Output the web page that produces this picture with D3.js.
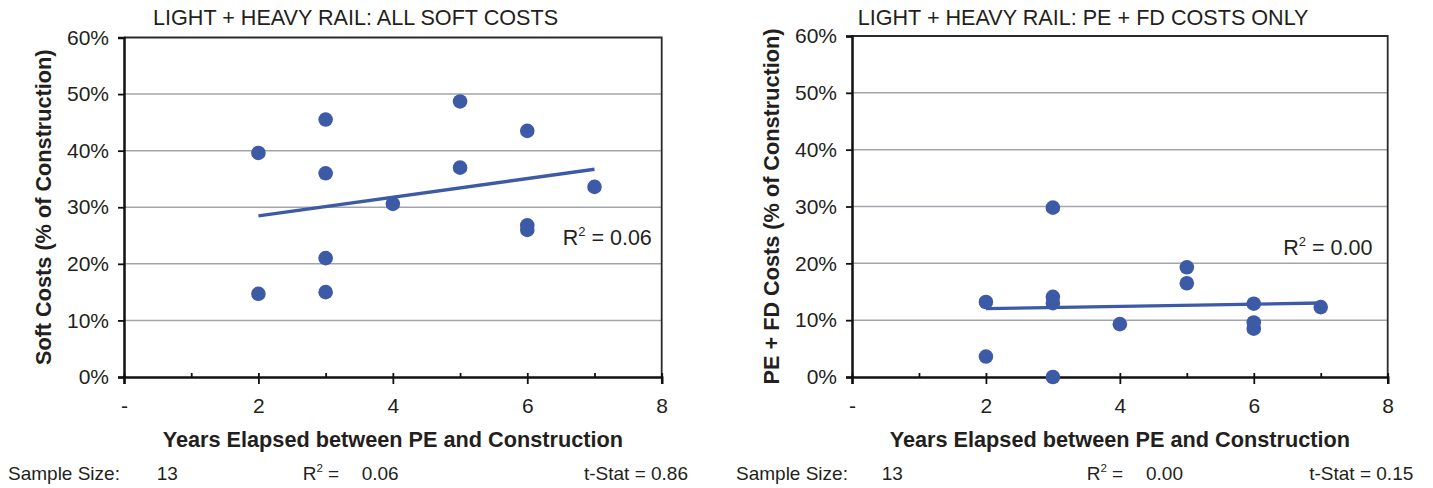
<!DOCTYPE html>
<html><head><meta charset="utf-8">
<script src="https://cdn.jsdelivr.net/npm/d3@7"></script>
<style>
html,body{margin:0;padding:0;background:#fff;}
text{font-family:"Liberation Sans",Arial,Helvetica,sans-serif;fill:#231f20;}
</style></head>
<body>
<svg id="chart" width="1433" height="488"></svg>
<script>
// ---- data ----
const xTickValues = [0, 2, 4, 6, 8];
const xTickLabels = ["-", "2", "4", "6", "8"];
const yTickValues = [0, 10, 20, 30, 40, 50, 60];

const softYears = [2, 2, 3, 3, 3, 3, 4, 5, 5, 6, 6, 6, 7];
const softCosts = [39.6, 14.7, 45.5, 36.0, 21.0, 15.0, 30.6, 48.7, 37.0, 43.5, 26.8, 26.0, 33.6];

const pefdYears = [2, 2, 3, 3, 3, 3, 4, 5, 5, 6, 6, 6, 7];
const pefdCosts = [13.2, 3.6, 29.8, 14.1, 13.0, 0.0, 9.3, 19.3, 16.5, 12.9, 9.6, 8.5, 12.3];

const panelTitles = ["LIGHT + HEAVY RAIL: ALL SOFT COSTS", "LIGHT + HEAVY RAIL: PE + FD COSTS ONLY"];
const yTitles = ["Soft Costs (% of Construction)", "PE + FD Costs (% of Construction)"];
const xTitle = "Years Elapsed between PE and Construction";
const sampleSizes = ["13", "13"];
const r2Values = ["0.06", "0.00"];
const tStats = ["0.86", "0.15"];

// ---- drawing ----
const svg = d3.select("#chart");
const BLUE = "#3c5aa6";
const GRID = "#a2a6aa";

function regression(xs, ys) {
  const n = xs.length;
  const mx = d3.mean(xs), my = d3.mean(ys);
  let sxy = 0, sxx = 0;
  for (let i = 0; i < n; i++) { sxy += (xs[i]-mx)*(ys[i]-my); sxx += (xs[i]-mx)**2; }
  const b = sxy / sxx;
  return x => my + b * (x - mx);
}

function panel(cfg) {
  const g = svg.append("g");
  const x = d3.scaleLinear().domain([0, 8]).range([cfg.left, cfg.right]);
  const y = d3.scaleLinear().domain([0, 60]).range([cfg.bottom, cfg.top]);

  // gridlines
  g.selectAll("line.grid").data(yTickValues.filter(v => v > 0 && v < 60)).join("line")
    .attr("x1", cfg.left).attr("x2", cfg.right)
    .attr("y1", d => y(d)).attr("y2", d => y(d))
    .attr("stroke", GRID).attr("stroke-width", 1.5);

  // top & right border
  g.append("path")
    .attr("d", `M${cfg.left},${y(60)}H${x(8)}V${y(0)}`)
    .attr("fill", "none").attr("stroke", "#2a2a2a").attr("stroke-width", 1.8);

  // y axis
  const yAxis = d3.axisLeft(y).tickValues(yTickValues).tickSize(6).tickPadding(9)
    .tickFormat(d => d + "%");
  const ya = g.append("g").attr("transform", `translate(${cfg.left},0)`).call(yAxis);
  ya.select(".domain").attr("stroke", "#111").attr("stroke-width", 2.5);
  ya.selectAll(".tick line").attr("stroke", "#111").attr("stroke-width", 1.8);
  ya.selectAll(".tick text").attr("font-size", 21).attr("fill", "#231f20")
    .style("font-family", '"Liberation Sans",Arial,sans-serif');

  // x axis: minor inside ticks
  const xa2 = g.append("g").attr("transform", `translate(0,${cfg.bottom})`)
    .call(d3.axisTop(x).tickValues(d3.range(0, 9, 1)).tickSize(4).tickFormat(""));
  xa2.select(".domain").remove();
  xa2.selectAll(".tick line").attr("stroke", "#111").attr("stroke-width", 1.8);

  const xAxis = d3.axisBottom(x).tickValues(xTickValues).tickSize(7).tickPadding(14)
    .tickFormat((d, i) => xTickLabels[i]);
  const xa = g.append("g").attr("transform", `translate(0,${cfg.bottom})`).call(xAxis);
  xa.select(".domain").attr("stroke", "#111").attr("stroke-width", 2.5);
  xa.selectAll(".tick line").attr("stroke", "#111").attr("stroke-width", 1.8);
  xa.selectAll(".tick text").attr("font-size", 21).attr("fill", "#231f20")
    .style("font-family", '"Liberation Sans",Arial,sans-serif');

  // trend line
  const f = regression(cfg.xs, cfg.ys);
  const x0 = d3.min(cfg.xs), x1 = d3.max(cfg.xs);
  g.append("line")
    .attr("x1", x(x0)).attr("y1", y(f(x0)))
    .attr("x2", x(x1)).attr("y2", y(f(x1)))
    .attr("stroke", BLUE).attr("stroke-width", 3.4);

  // dots
  g.selectAll("circle").data(cfg.xs.map((v, i) => [v, cfg.ys[i]])).join("circle")
    .attr("cx", d => x(d[0])).attr("cy", d => y(d[1])).attr("r", 7.3)
    .attr("fill", BLUE);

  // R2 label in plot
  const rl = g.append("text").attr("x", cfg.r2x).attr("y", cfg.r2y).attr("font-size", 21.5);
  rl.append("tspan").text("R");
  rl.append("tspan").attr("font-size", 13).attr("dy", -9).text("2");
  rl.append("tspan").attr("dy", 9).text(" = " + cfg.r2);

  // title
  g.append("text").attr("x", cfg.titleX).attr("y", 25).attr("font-size", 21.6).text(cfg.title);

  // y title
  g.append("text")
    .attr("transform", `translate(${cfg.yTitleX},${(y(0) + y(60)) / 2}) rotate(-90)`)
    .attr("text-anchor", "middle").attr("font-size", 21.7).attr("font-weight", "bold")
    .text(cfg.yTitle);

  // x title
  g.append("text").attr("x", (cfg.left + cfg.right) / 2).attr("y", 447)
    .attr("text-anchor", "middle").attr("font-size", 21.7).attr("font-weight", "bold")
    .text(xTitle);

  // stats row
  const sy = 480;
  const fs = 19;
  g.append("text").attr("x", cfg.s1).attr("y", sy).attr("font-size", fs).text("Sample Size:");
  g.append("text").attr("x", cfg.s2).attr("y", sy).attr("font-size", fs).text(cfg.n);
  const r2t = g.append("text").attr("x", cfg.s3).attr("y", sy).attr("font-size", fs);
  r2t.append("tspan").text("R");
  r2t.append("tspan").attr("font-size", 11.5).attr("dy", -8).text("2");
  r2t.append("tspan").attr("dy", 8).text(" =");
  g.append("text").attr("x", cfg.s4).attr("y", sy).attr("font-size", fs).text(cfg.r2);
  g.append("text").attr("x", cfg.s5).attr("y", sy).attr("font-size", fs)
    .attr("text-anchor", "end").text("t-Stat = " + cfg.t);
}

panel({left: 124, right: 661.7, top: 37.5, bottom: 377, xs: softYears, ys: softCosts,
  title: panelTitles[0], titleX: 153, yTitle: yTitles[0], yTitleX: 51,
  r2: r2Values[0], r2x: 562.7, r2y: 245, n: sampleSizes[0], t: tStats[0],
  s1: 8, s2: 156.7, s3: 302.7, s4: 361.7, s5: 688});

panel({left: 852, right: 1387.7, top: 36, bottom: 377, xs: pefdYears, ys: pefdCosts,
  title: panelTitles[1], titleX: 857.7, yTitle: yTitles[1], yTitleX: 779,
  r2: r2Values[1], r2x: 1283.3, r2y: 255, n: sampleSizes[1], t: tStats[1],
  s1: 736, s2: 881.7, s3: 1086.7, s4: 1146, s5: 1413.3});
</script>
</body></html>
